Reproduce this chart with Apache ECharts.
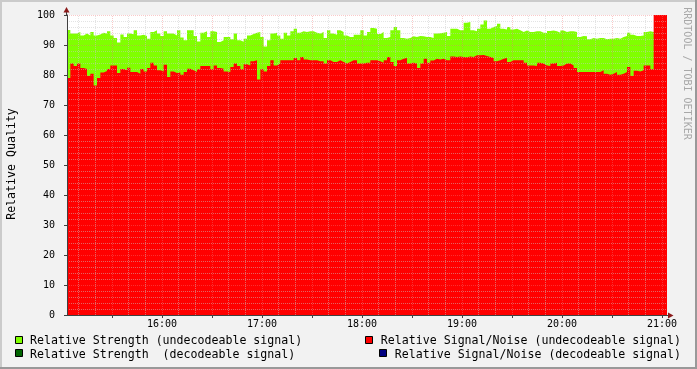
<!DOCTYPE html>
<html><head><meta charset="utf-8">
<script src="https://cdn.jsdelivr.net/npm/echarts@6/dist/echarts.min.js"></script>
<style>html,body{margin:0;padding:0;background:#f2f2f2}#c{width:697px;height:369px}</style>
</head><body><div id="c"></div>
<script>
// ---- data ----
const startMinute = 903;   // 15:03
const stepMinutes = 2;
const endMinute = 1263;    // 21:03
const strengthUndecodeable = [
95,93.8,93.8,94.3,93.2,93.8,93.2,94.3,93.2,93.5,94.1,93.8,94.6,93.2,92.3,90.8,93.5,92.7,93.8,93.6,94.9,93.2,93.4,93,92.1,94.3,94.9,93.8,93,94.6,93.8,93.8,93.2,94.9,92.5,
91.6,94.9,94.9,93,91.2,94.1,94.6,92.7,94.6,94.3,91,91.6,92.7,92.7,91.9,93.8,91.6,91.1,92.1,93.2,93.7,94.1,94.3,92.7,89.5,91.6,93.8,94.1,93.2,92.1,94.1,93.2,94.6,95.4,94.1,94.6,
94.3,94.6,94.6,94.1,93.8,94.3,92.3,94.9,93.8,93.4,94.9,94.3,93.2,92.7,92.7,93.4,93.4,94.9,93.2,94.3,95.7,95.4,93.7,94.3,92.3,92.7,94.9,96,94.9,92.3,92.1,92.3,92.9,92.7,93,92.9,
92.7,92.7,92.3,93.8,93.9,94.1,94.3,93,95.4,95.4,94.9,94.9,97.4,97.7,94.9,94.6,95.4,96.8,98.2,95.4,96,96.3,97.1,95.4,95.2,96,95.2,95.4,94.9,94.3,94.8,94.3,94.3,94.6,94.6,94.1,
94,94.7,94.8,94.6,94.1,94.8,94.3,94.6,94.6,94.3,92.7,93,92.9,91.9,92.3,92.1,92.3,92.3,91.9,92.1,92.1,92.3,92.1,92.7,93,94.1,93.4,93,93,93.2,94.3,94.6,94.3,94,94,94,94
];
const snrUndecodeable = [
79,83.8,83,83.8,82.3,82,79.7,80.4,76.5,79,80.8,81.3,82,83.2,83.2,80.7,82,81.6,82.4,81,81,80.4,82,81.2,82.3,84.1,83.2,81.6,81.2,83.4,79.3,81.2,80.7,80.8,80.1,
81,82.1,81.6,81,81.9,83,83,83,81.9,83.2,82.3,82.1,81.2,81,82.7,83.8,83,81.9,83.6,83.2,84.6,84.9,78.5,81.9,81.2,83,84.9,83.2,83.8,84.9,84.9,84.9,84.9,85.7,84.9,86,
85.2,84.9,84.9,84.9,84.6,84.6,83.8,84.9,84.3,84.3,84.9,84.3,83.8,84.3,84.9,84.9,83.8,83.8,84.1,84.1,84.9,84.9,84.6,84.1,84.9,86,84.3,83,84.9,85.4,85.7,83.8,84.1,83.8,82.3,83.8,
85.4,84.1,84.8,85.4,85.2,85.4,84.9,84.9,86.2,86,86.2,86,85.9,86.2,86,86.6,86.6,86.7,86.3,86,85.7,84.6,84.9,85.4,85.7,84.3,84.9,84.9,84.9,84.9,84.1,83.2,83.2,83,84.1,83.8,
83.2,83,83.8,84.1,83,83.2,83.8,83.8,83.2,82.3,81,81,81,81,81,81,81,81.6,80.4,80.1,80.4,81,80.1,80.4,81,82.7,79.7,81.4,81.2,81.6,83.2,83.2,81.9,100,100,100,100
];
const strengthDecodeable = [];
const snrDecodeable = [];
const hourTicks = [960,1020,1080,1140,1200,1260];
const legendNames = [
  'Relative Strength (undecodeable signal)',
  'Relative Strength  (decodeable signal)',
  'Relative Signal/Noise (undecodeable signal)',
  'Relative Signal/Noise (decodeable signal)'
];
const legendColors = ['#80ff00','#006400','#ff0000','#000080'];
const yTitle = 'Relative Quality';
const watermark = 'RRDTOOL / TOBI OETIKER';

// ---- build ----
function toSeries(arr){
  const d = arr.map((v,i)=>[startMinute+i*stepMinutes, v]);
  if (arr.length) d.push([endMinute, arr[arr.length-1]]);
  return d;
}
const pad = n => (n<10?'0':'')+n;
const fmt = v => pad(Math.floor(v/60)) + ':' + pad(v%60);

const MONO = 'DejaVu Sans Mono';
const minorC = 'rgba(200,200,200,0.5)';
const majorC = 'rgba(240,120,120,0.4)';
const gridLines = [];
for (let m = startMinute + 7; m < endMinute; m += 10) {
  gridLines.push({xAxis: m, lineStyle: {color: (m % 30 === 0) ? majorC : minorC, type: [1,1], width: 1}});
}
for (let v = 2; v <= 100; v += 2) {
  gridLines.push({yAxis: v, lineStyle: {color: (v % 10 === 0) ? majorC : minorC, type: [1,1], width: 1}});
}

const chart = echarts.init(document.getElementById('c'), null, {renderer: 'canvas'});
const areaSeries = (name, data, color, extra) => Object.assign({
  name, type: 'line', step: 'end', data: toSeries(data), symbol: 'none',
  lineStyle: {width: 0}, areaStyle: {color: color, opacity: 1}, itemStyle: {color: color},
  animation: false, silent: true
}, extra || {});

const graphics = [
  {type:'rect', shape:{x:0,y:0,width:697,height:369}, style:{fill:'#f2f2f2'}, z:-10},
  {type:'line', shape:{x1:0,y1:1,x2:697,y2:1}, style:{stroke:'#cbcbcb',lineWidth:2}},
  {type:'line', shape:{x1:1,y1:0,x2:1,y2:369}, style:{stroke:'#cbcbcb',lineWidth:2}},
  {type:'line', shape:{x1:696,y1:0,x2:696,y2:369}, style:{stroke:'#999999',lineWidth:2}},
  {type:'line', shape:{x1:0,y1:368,x2:697,y2:368}, style:{stroke:'#999999',lineWidth:2}},
  {type:'line', shape:{x1:66.5,y1:15,x2:66.5,y2:11}, style:{stroke:'#404040',lineWidth:1}, z:20},
  {type:'polygon', shape:{points:[[63.5,12.5],[69.5,12.5],[66.5,7]]}, style:{fill:'#8b1a1a'}, z:20},
  {type:'line', shape:{x1:667,y1:315.5,x2:669,y2:315.5}, style:{stroke:'#404040',lineWidth:1}, z:20},
  {type:'polygon', shape:{points:[[668,312.5],[668,318.5],[673.5,315.5]]}, style:{fill:'#8b1a1a'}, z:20},
  {type:'text', x:12, y:164, rotation:Math.PI/2, style:{text:yTitle, font:'11.6px '+MONO, fill:'#000', textAlign:'center', textVerticalAlign:'middle'}},
  {type:'text', x:687, y:73.5, rotation:-Math.PI/2, style:{text:watermark, font:'10px '+MONO, fill:'#a8a8a8', textAlign:'center', textVerticalAlign:'middle'}}
];
const legendPos = [
  {sx:15.5, sy:336.5, tx:30, ty:341, align:'left'},
  {sx:15.5, sy:349.5, tx:30, ty:354.5, align:'left'},
  {sx:365.5, sy:336.5, tx:681, ty:341, align:'right'},
  {sx:379.5, sy:349.5, tx:681, ty:354.5, align:'right'}
];
legendNames.forEach((n,i)=>{
  const p = legendPos[i];
  graphics.push({type:'rect', shape:{x:p.sx,y:p.sy,width:7,height:7}, style:{fill:legendColors[i], stroke:'#000', lineWidth:1}});
  graphics.push({type:'text', x:p.tx, y:p.ty, style:{text:n, font:'11.6px '+MONO, fill:'#000', textAlign:p.align, textVerticalAlign:'middle'}});
});

chart.setOption({
  animation: false,
  backgroundColor: '#f2f2f2',
  grid: {left: 67, top: 15, width: 600, height: 300, show: true, backgroundColor: '#ffffff', borderWidth: 0},
  xAxis: {
    type: 'value', min: startMinute, max: endMinute, z: 6,
    axisLine: {show: true, onZero: false, lineStyle: {color: '#404040', width: 1}},
    axisTick: {show: true, length: 3, customValues: [930,960,990,1020,1050,1080,1110,1140,1170,1200,1230,1260], lineStyle: {color: '#404040'}},
    axisLabel: {show: true, customValues: hourTicks, formatter: fmt, margin: 4, fontFamily: MONO, fontSize: 10, color: '#000'},
    splitLine: {show: false}
  },
  yAxis: {
    type: 'value', min: 0, max: 100, interval: 10, z: 6,
    axisLine: {show: true, lineStyle: {color: '#404040', width: 1}},
    axisTick: {show: true, length: 3, lineStyle: {color: '#404040'}},
    axisLabel: {margin: 12, fontFamily: MONO, fontSize: 10, color: '#000'},
    splitLine: {show: false}
  },
  series: [
    areaSeries(legendNames[0], strengthUndecodeable, legendColors[0]),
    areaSeries(legendNames[1], strengthDecodeable, legendColors[1]),
    areaSeries(legendNames[2], snrUndecodeable, legendColors[2], {
      markLine: {silent: true, symbol: ['none','none'], label: {show: false}, animation: false, data: gridLines, emphasis: {disabled: true}}
    }),
    areaSeries(legendNames[3], snrDecodeable, legendColors[3])
  ],
  graphic: graphics
});
</script>
</body></html>
